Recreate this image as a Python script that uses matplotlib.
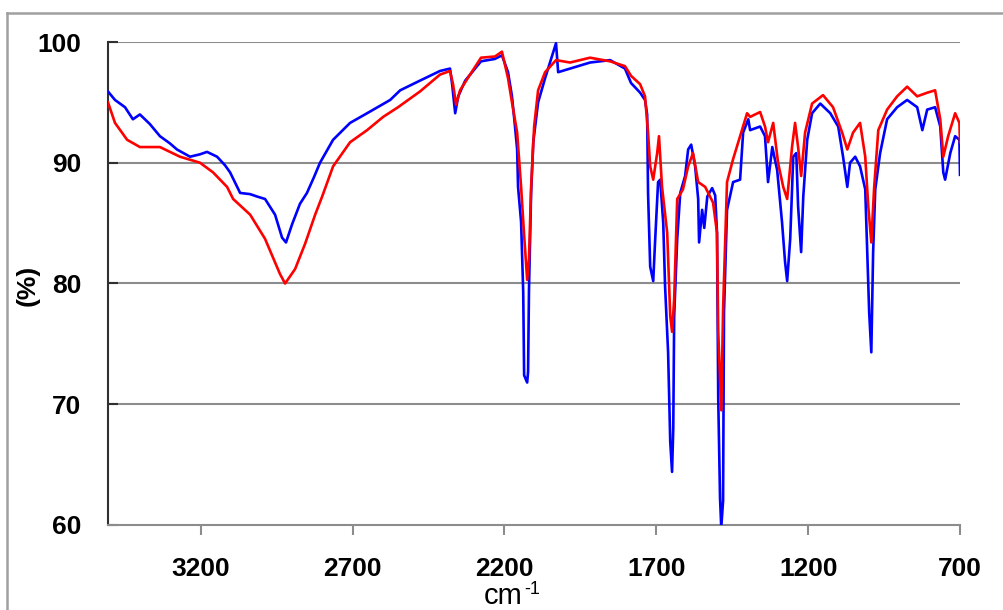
import matplotlib
matplotlib.use("Agg")
import matplotlib.pyplot as plt
from matplotlib.lines import Line2D

# wavenumber (cm-1) / transmittance (%)
blue_wn = [3505, 3482, 3449, 3423, 3400, 3367, 3334, 3301, 3278, 3235, 3202, 3179, 3146, 3120,
           3103, 3070, 3037, 3014, 2988, 2955, 2932, 2919, 2899, 2873, 2850, 2827, 2807, 2764,
           2708, 2652, 2576, 2543, 2478, 2412, 2379, 2372, 2362, 2352, 2329, 2277, 2231, 2208,
           2188, 2175, 2165, 2158, 2155, 2145, 2138, 2135, 2125, 2122, 2119, 2112, 2105, 2089,
           2066, 2030, 2023, 1984, 1918, 1852, 1803, 1783, 1753, 1737, 1730, 1727, 1720, 1710,
           1704, 1694, 1687, 1677, 1671, 1661, 1654, 1648, 1644, 1641, 1631, 1621, 1605, 1595,
           1585, 1572, 1562, 1559, 1549, 1542, 1532, 1516, 1506, 1500, 1496, 1490, 1486, 1480,
           1477, 1467, 1447, 1424, 1414, 1397, 1391, 1358, 1342, 1332, 1318, 1302, 1286, 1276,
           1269, 1259, 1249, 1239, 1233, 1223, 1216, 1203, 1187, 1160, 1127, 1101, 1085, 1071,
           1062, 1045, 1029, 1012, 1006, 999, 992, 986, 979, 963, 940, 907, 874, 841, 824, 808,
           782, 765, 755, 749, 732, 716, 702, 700]
blue_t = [95.9, 95.2, 94.6, 93.6, 94.0, 93.2, 92.2, 91.6, 91.1, 90.5, 90.7, 90.9, 90.5, 89.8,
          89.2, 87.5, 87.4, 87.2, 87.0, 85.7, 83.8, 83.4, 84.9, 86.6, 87.5, 88.8, 90.0, 91.9,
          93.3, 94.1, 95.2, 96.0, 96.8, 97.6, 97.8, 96.5, 94.1, 95.5, 96.8, 98.4, 98.6, 98.9,
          97.5, 95.5, 93.0, 91.1, 88.0, 85.1, 79.3, 72.4, 71.8, 72.7, 79.5, 87.5, 91.7, 95.0,
          97.0, 99.9, 97.5, 97.8, 98.3, 98.5, 97.8, 96.6, 95.8, 95.2, 94.0, 87.5, 81.4, 80.2,
          83.4, 88.4, 88.6, 85.0, 79.8, 74.3, 66.9, 64.4, 68.0, 77.3, 83.7, 87.5, 88.9, 91.1,
          91.5, 89.7, 87.0, 83.4, 86.1, 84.6, 87.2, 87.9, 87.3, 84.2, 70.5, 62.2, 59.8, 62.0,
          77.6, 86.1, 88.4, 88.6, 92.5, 93.6, 92.7, 93.0, 92.2, 88.4, 91.3, 89.4, 85.1, 81.8,
          80.2, 83.7, 90.5, 90.8, 86.4, 82.6, 87.2, 91.9, 94.1, 94.9, 94.1, 93.0, 90.5, 88.0,
          90.0, 90.5, 89.7, 87.8, 83.1, 77.6, 74.3, 82.6, 87.8, 90.8, 93.6, 94.6, 95.2, 94.6,
          92.7, 94.4, 94.6, 93.0, 89.2, 88.6, 90.8, 92.2, 91.9, 89.0]

red_wn = [3505, 3482, 3442, 3400, 3334, 3268, 3202, 3159, 3113, 3093, 3037, 2988, 2939, 2922,
          2889, 2856, 2823, 2800, 2764, 2708, 2652, 2599, 2550, 2478, 2412, 2379, 2369, 2359,
          2346, 2313, 2277, 2231, 2208, 2188, 2175, 2158, 2145, 2135, 2125, 2119, 2112, 2102,
          2089, 2066, 2030, 1984, 1918, 1852, 1803, 1783, 1753, 1737, 1727, 1720, 1710, 1697,
          1691, 1681, 1664, 1654, 1648, 1641, 1631, 1612, 1595, 1579, 1562, 1539, 1513, 1500,
          1496, 1486, 1480, 1467, 1447, 1424, 1401, 1391, 1358, 1342, 1332, 1315, 1299, 1282,
          1269, 1253, 1243, 1233, 1223, 1210, 1187, 1151, 1118, 1088, 1071, 1052, 1029, 1012,
          1002, 992, 983, 969, 940, 907, 874, 841, 808, 782, 765, 755, 739, 716, 702, 700]
red_t = [95.0, 93.3, 91.9, 91.3, 91.3, 90.5, 90.0, 89.2, 88.0, 87.0, 85.7, 83.7, 80.8, 80.0,
         81.2, 83.3, 85.7, 87.2, 89.7, 91.7, 92.7, 93.8, 94.6, 95.9, 97.3, 97.6, 96.5, 94.8,
         96.0, 97.3, 98.7, 98.8, 99.2, 97.0, 95.0, 92.5, 88.0, 84.0, 80.3, 82.0, 88.0, 93.0,
         96.0, 97.5, 98.5, 98.3, 98.7, 98.4, 98.0, 97.2, 96.5, 95.5, 92.5, 89.7, 88.6, 90.8,
         92.2, 88.0, 84.2, 77.3, 76.0, 78.7, 87.0, 87.8, 89.7, 90.8, 88.4, 88.0, 86.7, 84.2,
         76.0, 69.5, 77.9, 88.4, 90.3, 92.2, 94.1, 93.8, 94.2, 93.0, 91.7, 93.3, 90.0, 88.0,
         87.0, 91.3, 93.3, 91.3, 88.9, 92.5, 94.9, 95.6, 94.6, 92.5, 91.1, 92.5, 93.3, 90.5,
         86.4, 83.4, 87.8, 92.7, 94.4, 95.5, 96.3, 95.5, 95.8, 96.0, 93.6, 90.5, 92.2, 94.1,
         93.3, 91.7]

x_ticks = [3200, 2700, 2200, 1700, 1200, 700]
y_ticks = [60, 70, 80, 90, 100]

W, H = 1004, 610
fig = plt.figure(figsize=(W / 100, H / 100), dpi=100)
fig.patch.set_facecolor("white")

# outer frame, cut by the right and bottom edge as in the reference
frame_col = "#a0a0a0"
fig.add_artist(Line2D([7 / W, 1.0], [1 - 13 / H, 1 - 13 / H], transform=fig.transFigure,
                      color=frame_col, lw=1.8))
fig.add_artist(Line2D([7 / W, 7 / W], [0.0, 1 - 13 / H], transform=fig.transFigure,
                      color=frame_col, lw=1.8))

ax = fig.add_axes([108 / W, 1 - 525 / H, (960 - 108) / W, (525 - 42) / H])

grid_col = "#8c8c8c"
for v in y_ticks[1:]:
    ax.axhline(v, color=grid_col, lw=1.5, zorder=1)

ax.plot(blue_wn, blue_t, color="#0000ff", lw=1.9, zorder=3)
ax.plot(red_wn, red_t, color="#ff0000", lw=1.9, zorder=4)

ax.set_xlim(3505, 700)
ax.set_ylim(60, 100)

for s in ["top", "right"]:
    ax.spines[s].set_visible(False)
ax.spines["left"].set_color("#303030")
ax.spines["left"].set_linewidth(1.5)
ax.spines["bottom"].set_color(grid_col)
ax.spines["bottom"].set_linewidth(1.5)

ax.set_xticks(x_ticks)
ax.set_xticklabels([str(t) for t in x_ticks])
ax.set_yticks(y_ticks)
ax.set_yticklabels([str(t) for t in y_ticks])

ax.tick_params(axis="x", direction="out", length=7, width=1.5, color=grid_col, pad=16)
ax.tick_params(axis="y", direction="in", length=7, width=1.5, color="#303030", pad=19)
for lab in ax.get_xticklabels() + ax.get_yticklabels():
    lab.set_fontfamily("Liberation Sans")
    lab.set_fontweight("bold")
    lab.set_fontsize(19)

fig.text(28 / W, 1 - 285 / H, "(%)", rotation=90, ha="center", va="center",
         fontsize=19, fontweight="bold", family="Liberation Sans")
# axis unit: "cm" with a raised "-1"
fig.text(523 / W, 1 - 604 / H, "cm", ha="right", va="baseline",
         fontsize=21, family="Liberation Sans")
fig.text(524 / W, 1 - 594 / H, "-1", ha="left", va="baseline",
         fontsize=13, family="Liberation Sans")

fig.savefig("out.png", dpi=100)
